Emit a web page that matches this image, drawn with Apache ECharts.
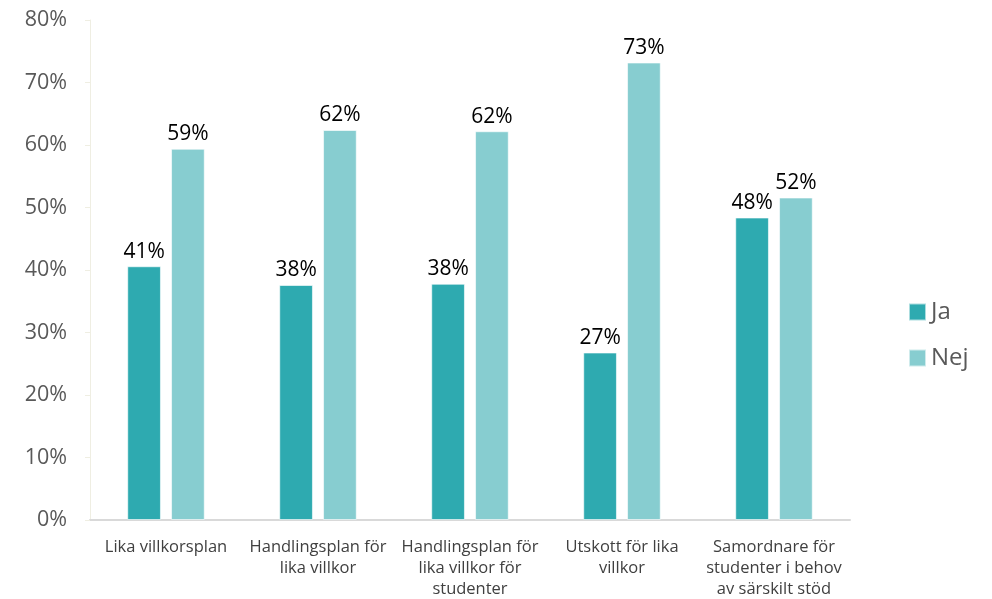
<!DOCTYPE html>
<html>
<head>
<meta charset="utf-8">
<script src="https://cdn.jsdelivr.net/npm/echarts@6/dist/echarts.min.js"></script>
<style>
  html, body { margin: 0; padding: 0; background: #fff; }
  #chart { width: 992px; height: 599px; }
</style>
</head>
<body>
<div id="chart"></div>
<script>
// kategorier och värden (andel i procent)
var categories = [
    'Lika villkorsplan',
    'Handlingsplan för\nlika villkor',
    'Handlingsplan för\nlika villkor för\nstudenter',
    'Utskott för lika\nvillkor',
    'Samordnare för\nstudenter i behov\nav särskilt stöd'
];
var seriesNames = ['Ja', 'Nej'];
var jaValues = [40.6, 37.6, 37.8, 26.8, 48.4];
var nejValues = [59.4, 62.4, 62.2, 73.2, 51.6];
var yTicks = [0, 10, 20, 30, 40, 50, 60, 70, 80];

var font = '"Open Sans", "DejaVu Sans", sans-serif';

var myChart = echarts.init(document.getElementById('chart'));

function barSeries(name, data, color) {
    return {
        name: name,
        type: 'bar',
        data: data,
        barGap: '30%',
        barCategoryGap: '49%',
        itemStyle: {
            color: color,
            borderColor: 'rgba(255,255,255,0.6)',
            borderWidth: 1
        },
        label: {
            show: true,
            position: 'top',
            distance: 4,
            color: '#000',
            fontFamily: font,
            fontSize: 21,
            formatter: function (p) { return Math.round(p.value) + '%'; }
        }
    };
}

var option = {
    animation: false,
    textStyle: { fontFamily: font },
    grid: {
        left: 90,
        right: 142,
        top: 20,
        bottom: 79,
        outerBoundsMode: 'none'
    },
    legend: {
        orient: 'vertical',
        left: 903,
        top: 295,
        itemWidth: 17,
        itemHeight: 17,
        itemGap: 22,
        icon: 'rect',
        data: seriesNames,
        textStyle: { color: '#595959', fontSize: 24, fontFamily: font }
    },
    xAxis: {
        type: 'category',
        data: categories,
        axisLine: { lineStyle: { color: '#d9d9d9', width: 2 } },
        axisTick: { show: false },
        axisLabel: {
            color: '#404040',
            fontSize: 16.5,
            fontFamily: font,
            lineHeight: 21,
            margin: 17,
            interval: 0
        }
    },
    yAxis: {
        type: 'value',
        min: yTicks[0],
        max: yTicks[yTicks.length - 1],
        interval: 10,
        axisLine: { show: true, lineStyle: { color: '#efeee2', width: 1 } },
        axisTick: { show: true, length: 5, lineStyle: { color: '#efeee2' } },
        splitLine: { show: false },
        axisLabel: {
            color: '#595959',
            fontSize: 21.5,
            fontFamily: font,
            margin: 23,
            formatter: '{value}%'
        }
    },
    series: [
        barSeries(seriesNames[0], jaValues, '#2eaab0'),
        barSeries(seriesNames[1], nejValues, '#87cdd0')
    ]
};

myChart.setOption(option);
</script>
</body>
</html>
